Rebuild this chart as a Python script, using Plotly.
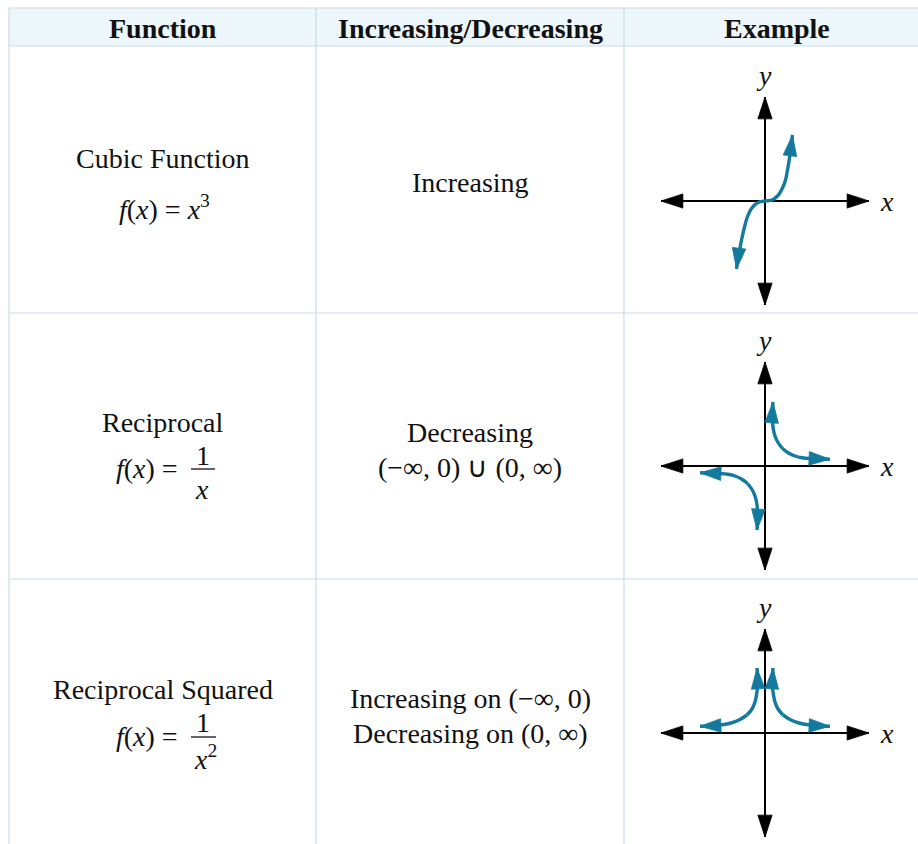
import plotly.graph_objects as go

FIG_W, FIG_H = 918, 844

# ---------------- table content ----------------
HEADERS = ["Function", "Increasing/Decreasing", "Example"]
FUNC_NAMES = ["Cubic Function", "Reciprocal", "Reciprocal Squared"]
FUNC_LHS = ["<i>f</i>(<i>x</i>) = <i>x</i><sup>3</sup>", "<i>f</i>(<i>x</i>) =", "<i>f</i>(<i>x</i>) ="]
FRAC_NUM = [None, "1", "1"]
FRAC_DEN = [None, "<i>x</i>", "<i>x</i><sup>2</sup>"]
BEHAVIOUR = [["Increasing"],
             ["Decreasing", "(−∞, 0) ∪ (0, ∞)"],
             ["Increasing on (−∞, 0)", "Decreasing on (0, ∞)"]]

# ---------------- curve points read from the sketches (units ~ 10 px) ----------------
cubic_up_x = [0, 0.7, 1.3, 1.75, 2.05, 2.25, 2.45, 2.6, 2.75]
cubic_up_y = [0, 0.1, 0.55, 1.3, 2.1, 3.1, 4.3, 5.4, 6.6]
cubic_dn_x = [0, -0.7, -1.35, -1.8, -2.1, -2.35, -2.55, -2.75, -2.85]
cubic_dn_y = [0, -0.15, -0.75, -1.7, -2.8, -3.9, -5.0, -6.0, -6.8]

recip_top_x = [1.75, 1.3, 1.0, 0.83, 0.75, 0.74, 0.8]
recip_top_y = [1.75, 2.35, 3.0, 3.7, 4.5, 5.5, 6.4]
recip_right_x = [1.75, 2.35, 3.0, 3.7, 4.5, 5.5, 6.5]
recip_right_y = [1.75, 1.3, 1.0, 0.83, 0.75, 0.72, 0.68]

rsq_top_x = [1.8, 1.3, 1.0, 0.85, 0.75, 0.75, 0.8]
rsq_top_y = [1.8, 2.4, 3.1, 3.8, 4.6, 5.6, 6.5]
rsq_right_x = [1.8, 2.6, 3.4, 4.3, 5.3, 6.5]
rsq_right_y = [1.8, 1.3, 1.0, 0.82, 0.72, 0.67]

AXIS_HALF = 10.4

# ---------------- geometry (pixels) ----------------
COL_X = [9, 316, 624, 930]
ROW_Y = [8, 46, 313, 579, 846]
GRAPH_CX = 765
GRAPH_CY = [201, 466, 733]
HALF = 110  # pixel half-size of each graph subplot; range +-11 -> 10 px/unit

BORDER = "#c8dde6"
HEADER_BG = "#edf6fb"
TEAL = "#137a9e"
FONT = "Liberation Serif"
BODY = 28

fig = go.Figure()

layout_axes = dict(
    xaxis=dict(domain=[0, 1], range=[0, FIG_W], visible=False, fixedrange=True),
    yaxis=dict(domain=[0, 1], range=[FIG_H, 0], visible=False, fixedrange=True),
)
for i, cy in enumerate(GRAPH_CY):
    k = i + 2
    layout_axes[f"xaxis{k}"] = dict(
        domain=[(GRAPH_CX - HALF) / FIG_W, (GRAPH_CX + HALF) / FIG_W],
        range=[-11, 11], visible=False, anchor=f"y{k}", fixedrange=True)
    layout_axes[f"yaxis{k}"] = dict(
        domain=[1 - (cy + HALF) / FIG_H, 1 - (cy - HALF) / FIG_H],
        range=[-11, 11], visible=False, anchor=f"x{k}", fixedrange=True)

fig.add_trace(go.Scatter(x=[0], y=[0], mode="markers", marker=dict(size=1, opacity=0),
                         hoverinfo="skip", showlegend=False))


def arrow_trace(xs, ys, color, width, size, k):
    n = len(xs)
    return go.Scatter(
        x=xs, y=ys, xaxis=f"x{k}", yaxis=f"y{k}", mode="lines+markers", opacity=1,
        line=dict(color=color, width=width, shape="spline"),
        marker=dict(symbol="arrow", size=[0] * (n - 1) + [size], color=color, opacity=1,
                    angleref="previous", line=dict(width=0.8, color=color)),
        hoverinfo="skip", showlegend=False, cliponaxis=False)


def neg(v):
    return [-a for a in v]


for i in range(3):
    k = i + 2
    for xs, ys in ([[0, AXIS_HALF], [0, 0]], [[0, -AXIS_HALF], [0, 0]],
                   [[0, 0], [0, AXIS_HALF]], [[0, 0], [0, -AXIS_HALF]]):
        fig.add_trace(arrow_trace(xs, ys, "#000000", 2.0, 23, k))

curves = {
    2: [(cubic_up_x, cubic_up_y), (cubic_dn_x, cubic_dn_y)],
    3: [(recip_top_x, recip_top_y), (recip_right_x, recip_right_y),
        (neg(recip_top_x), neg(recip_top_y)), (neg(recip_right_x), neg(recip_right_y))],
    4: [(rsq_top_x, rsq_top_y), (rsq_right_x, rsq_right_y),
        (neg(rsq_top_x), rsq_top_y), (neg(rsq_right_x), rsq_right_y)],
}
for k, lst in curves.items():
    for xs, ys in lst:
        fig.add_trace(arrow_trace(xs, ys, TEAL, 3.4, 22, k))

# ---------------- table shapes ----------------
shapes = [dict(type="rect", xref="x", yref="y", x0=COL_X[0], x1=COL_X[-1], y0=ROW_Y[0], y1=ROW_Y[1],
               fillcolor=HEADER_BG, line=dict(width=0), layer="below")]
for y in ROW_Y:
    shapes.append(dict(type="line", xref="x", yref="y", x0=COL_X[0], x1=COL_X[-1], y0=y, y1=y,
                       line=dict(color=BORDER, width=1.2), layer="below"))
for x in COL_X:
    shapes.append(dict(type="line", xref="x", yref="y", x0=x, x1=x, y0=ROW_Y[0], y1=ROW_Y[-1],
                       line=dict(color=BORDER, width=1.2), layer="below"))

annotations = []


def txt(x, y, text, size=BODY, xanchor="center"):
    annotations.append(dict(x=x, y=y, xref="x", yref="y", text=text, showarrow=False,
                            xanchor=xanchor, yanchor="middle", borderpad=0,
                            font=dict(family=FONT, size=size, color="#111111")))


col_c = [(COL_X[j] + COL_X[j + 1]) / 2 for j in range(3)]
for j, h in enumerate(HEADERS):
    txt(col_c[j] if j < 2 else 777, 28, f"<b>{h}</b>", size=28)

# row 1
txt(col_c[0], 158, FUNC_NAMES[0])
txt(col_c[0] + 2, 207, FUNC_LHS[0])
txt(col_c[1], 182, BEHAVIOUR[0][0])

# row 2
txt(col_c[0], 422, FUNC_NAMES[1])
txt(179, 468, FUNC_LHS[1], xanchor="right")
txt(203, 455, FRAC_NUM[1])
txt(202, 489, FRAC_DEN[1])
shapes.append(dict(type="line", xref="x", yref="y", x0=191, x1=215, y0=469, y1=469,
                   line=dict(color="#111111", width=1.3)))
txt(col_c[1], 432, BEHAVIOUR[1][0])
txt(col_c[1], 467, BEHAVIOUR[1][1])

# row 3
txt(col_c[0], 689, FUNC_NAMES[2])
txt(179, 736, FUNC_LHS[2], xanchor="right")
txt(203, 722, FRAC_NUM[2])
txt(205, 757, FRAC_DEN[2])
shapes.append(dict(type="line", xref="x", yref="y", x0=191, x1=216, y0=737, y1=737,
                   line=dict(color="#111111", width=1.3)))
txt(col_c[1], 698, BEHAVIOUR[2][0])
txt(col_c[1], 733, BEHAVIOUR[2][1])

# axis labels in graphs
for cy in GRAPH_CY:
    txt(GRAPH_CX - 1, cy - 126, "<i>y</i>", size=28)
    txt(GRAPH_CX + 122, cy, "<i>x</i>", size=28)

fig.update_layout(
    width=FIG_W, height=FIG_H, margin=dict(l=0, r=0, t=0, b=0),
    paper_bgcolor="white", plot_bgcolor="rgba(0,0,0,0)",
    shapes=shapes, annotations=annotations, showlegend=False,
    **layout_axes)

fig.write_html("out.html", config={"displayModeBar": False, "staticPlot": True},
               post_script="document.body.style.margin='0px';")
